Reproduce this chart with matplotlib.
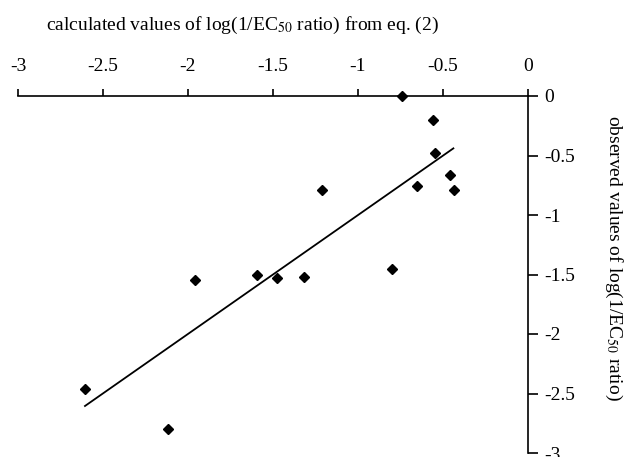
import numpy as np
import matplotlib
matplotlib.use("Agg")
import matplotlib.pyplot as plt

plt.rcParams['font.family'] = 'Liberation Serif'
plt.rcParams['mathtext.fontset'] = 'stix'

# calculated (eq. 2) vs observed log(1/EC50 ratio)
calc = [-2.606, -2.118, -1.961, -1.592, -1.474, -1.319, -1.212,
        -0.741, -0.557, -0.545, -0.651, -0.459, -0.437, -0.800]
obs  = [-2.465, -2.800, -1.546, -1.502, -1.529, -1.518, -0.790,
         0.000, -0.202, -0.479, -0.759, -0.664, -0.790, -1.456]

# regression line end points
fit_x = [-2.606, -0.439]
fit_y = [-2.605, -0.440]

xticks = [-3, -2.5, -2, -1.5, -1, -0.5, 0]
yticks = [0, -0.5, -1, -1.5, -2, -2.5, -3]

fig = plt.figure(figsize=(6.26, 4.57), dpi=100)
ax = fig.add_axes([18/626, 4/457, 510/626, 357/457])

ax.plot(fit_x, fit_y, color='black', lw=1.3)
ax.plot(calc, obs, 'D', color='black', ms=5.5, clip_on=False)

ax.set_xlim(-3, 0)
ax.set_ylim(-3, 0)

ax.spines['left'].set_visible(False)
ax.spines['bottom'].set_visible(False)
for s in ['top', 'right']:
    ax.spines[s].set_linewidth(1.2)

ax.xaxis.tick_top()
ax.yaxis.tick_right()
ax.set_xticks(xticks)
ax.set_yticks(yticks)
ax.set_xticklabels([f'{t:g}' for t in xticks])
ax.set_yticklabels([f'{t:g}' for t in yticks])
ax.tick_params(axis='x', direction='out', length=5, width=1.2, pad=10, labelsize=14)
ax.tick_params(axis='y', direction='out', length=7, width=1.2, pad=5, labelsize=14)

fig.text(242/626, 1 - 25/457, r'calculated values of log(1/EC$_{50}$ ratio) from eq. (2)',
         fontsize=14, ha='center', va='center')
fig.text(614/626, 1 - 258/457, r'observed values of log(1/EC$_{50}$ ratio)',
         fontsize=14, ha='center', va='center', rotation=-90)

fig.savefig('out.png', dpi=100)
